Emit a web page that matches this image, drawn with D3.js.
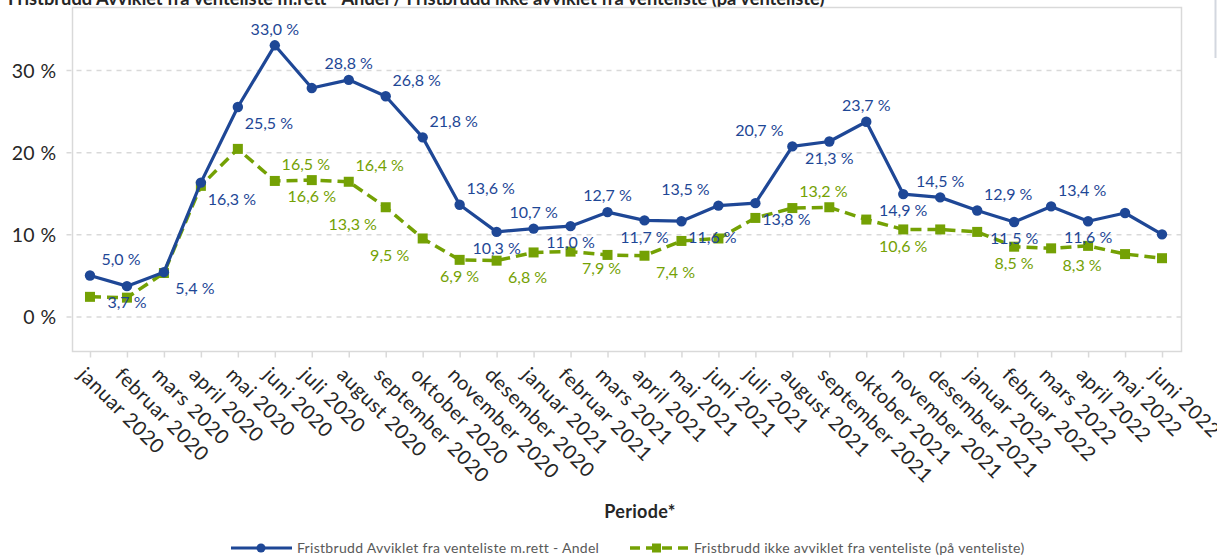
<!DOCTYPE html>
<html>
<head>
<meta charset="utf-8">
<script src="https://cdn.jsdelivr.net/npm/d3@7"></script>
<style>
  html, body { margin: 0; padding: 0; background: #fff; }
  svg { display: block; font-family: Lato, "Open Sans", sans-serif; }
</style>
</head>
<body>
<svg id="chart" width="1217" height="557"></svg>
<script>
// Periods (months)
const months = [
  "januar 2020","februar 2020","mars 2020","april 2020","mai 2020","juni 2020",
  "juli 2020","august 2020","september 2020","oktober 2020","november 2020","desember 2020",
  "januar 2021","februar 2021","mars 2021","april 2021","mai 2021","juni 2021",
  "juli 2021","august 2021","september 2021","oktober 2021","november 2021","desember 2021",
  "januar 2022","februar 2022","mars 2022","april 2022","mai 2022","juni 2022"
];

// Fristbrudd Avviklet fra venteliste m.rett - Andel (%)
const avviklet = [
  5.0, 3.7, 5.4, 16.3, 25.5, 33.0, 27.8, 28.8, 26.8, 21.8, 13.6, 10.3,
  10.7, 11.0, 12.7, 11.7, 11.6, 13.5, 13.8, 20.7, 21.3, 23.7, 14.9, 14.5,
  12.9, 11.5, 13.4, 11.6, 12.6, 10.0
];

// Fristbrudd ikke avviklet fra venteliste (på venteliste) (%)
const ikkeAvviklet = [
  2.4, 2.3, 5.3, 15.9, 20.4, 16.5, 16.6, 16.4, 13.3, 9.5, 6.9, 6.8,
  7.8, 7.9, 7.5, 7.4, 9.2, 9.5, 12.0, 13.2, 13.3, 11.8, 10.6, 10.6,
  10.3, 8.5, 8.3, 8.6, 7.6, 7.1
];

const yTicks = [0, 10, 20, 30];

const titleText = "Fristbrudd Avviklet fra venteliste m.rett - Andel / Fristbrudd ikke avviklet fra venteliste (på venteliste)";
const xTitle = "Periode*";
const seriesNames = [
  "Fristbrudd Avviklet fra venteliste m.rett - Andel",
  "Fristbrudd ikke avviklet fra venteliste (på venteliste)"
];

// Where each value label sits relative to its point (null = no label)
// T = above, B = below, R/L = shifted right/left
const avvikletLabelPos = [
  "TR","B","BR","BR","BR","T",null,"T","TR","TR","TR","B",
  "T","B","T","B","BR","TL","BR","TL","B","T","B","T",
  "TR","B","TR","B",null,null
];
const ikkeAvvikletLabelPos = [
  null,null,null,null,null,"TR","B","TR","BL","BL","B","BR",
  null,"BR",null,"BR",null,null,null,"TR",null,null,"B",null,
  null,"B","BR",null,null,null
];

const BLUE = "#1e4796";
const GREEN = "#74a104";
const GRID = "#d9d9d9";
const TEXT = "#262626";

const frame = { left: 72.5, right: 1181.5, top: 7.5, bottom: 351.5 };

const svg = d3.select("#chart");

const x = d3.scalePoint()
  .domain(months)
  .range([frame.left - 1, frame.right - 1])
  .padding(0.5);

const y = d3.scaleLinear()
  .domain([-4.25, 37.6])
  .range([frame.bottom, frame.top]);

// Title (partly above the visible area)
svg.append("text")
  .attr("x", 8).attr("y", 5)
  .attr("font-size", 18.3).attr("font-weight", 700)
  .attr("fill", TEXT)
  .text(titleText);

// Side rule at the right edge
svg.append("rect")
  .attr("x", 1214.5).attr("y", 0).attr("width", 2).attr("height", 58)
  .attr("fill", "#d3d7df");

// Horizontal dashed grid lines
const yAxis = d3.axisLeft(y)
  .tickValues(yTicks)
  .tickSize(frame.right - frame.left + 7)
  .tickFormat(d => d + " %");

const gy = svg.append("g")
  .attr("transform", `translate(${frame.right},0)`)
  .call(yAxis);
gy.select(".domain").remove();
gy.selectAll(".tick line")
  .attr("stroke", GRID).attr("stroke-width", 1.5)
  .attr("stroke-dasharray", "5,5");
gy.selectAll(".tick text")
  .attr("x", -(frame.right - 56.5))
  .attr("dy", "0.36em")
  .attr("font-size", 19.5)
  .attr("letter-spacing", 0.4)
  .attr("font-family", "Lato, sans-serif")
  .attr("fill", TEXT);

// Plot frame
svg.append("rect")
  .attr("x", frame.left).attr("y", frame.top)
  .attr("width", frame.right - frame.left)
  .attr("height", frame.bottom - frame.top)
  .attr("fill", "none").attr("stroke", GRID).attr("stroke-width", 1.5);

// X axis with rotated month labels
const xAxis = d3.axisBottom(x).tickSize(6).tickSizeOuter(0);
const gx = svg.append("g")
  .attr("transform", `translate(0,${frame.bottom})`)
  .call(xAxis);
gx.select(".domain").remove();
gx.selectAll(".tick line").attr("stroke", GRID).attr("stroke-width", 1.5);
gx.selectAll(".tick text")
  .attr("font-size", 20)
  .attr("letter-spacing", 0.6)
  .attr("font-family", "Lato, sans-serif")
  .attr("fill", TEXT)
  .attr("text-anchor", "start")
  .attr("x", 5).attr("y", 0).attr("dy", null)
  .attr("transform", "translate(0,4) rotate(45) translate(0,24)");

// X axis title
svg.append("text")
  .attr("x", (frame.left + frame.right) / 2 + 13)
  .attr("y", 518)
  .attr("text-anchor", "middle")
  .attr("font-size", 18).attr("font-weight", 700)
  .attr("letter-spacing", 0.3)
  .attr("fill", TEXT)
  .text(xTitle);

const line = d3.line()
  .x((d, i) => x(months[i]))
  .y(d => y(d));

// Green dashed series
svg.append("path")
  .datum(ikkeAvviklet)
  .attr("d", line)
  .attr("fill", "none")
  .attr("stroke", GREEN).attr("stroke-width", 3.5)
  .attr("stroke-dasharray", "11,6");

svg.append("g").selectAll("rect")
  .data(ikkeAvviklet)
  .join("rect")
  .attr("x", (d, i) => x(months[i]) - 5)
  .attr("y", d => y(d) - 5)
  .attr("width", 10).attr("height", 10)
  .attr("fill", GREEN);

// Blue solid series
svg.append("path")
  .datum(avviklet)
  .attr("d", line)
  .attr("fill", "none")
  .attr("stroke", BLUE).attr("stroke-width", 3.2)
  .attr("stroke-linejoin", "round");

svg.append("g").selectAll("circle")
  .data(avviklet)
  .join("circle")
  .attr("cx", (d, i) => x(months[i]))
  .attr("cy", d => y(d))
  .attr("r", 5.2)
  .attr("fill", BLUE);

// Value labels
const fmt = v => v.toFixed(1).replace(".", ",") + " %";
function placeLabels(values, positions, color) {
  const items = values.map((v, i) => ({ v, i, p: positions[i] })).filter(d => d.p);
  svg.append("g").selectAll("text")
    .data(items)
    .join("text")
    .attr("x", d => x(months[d.i]) + (d.p.includes("R") ? 31 : d.p.includes("L") ? -33 : 0))
    .attr("y", d => y(d.v) + (d.p.startsWith("T") ? -16.5 : 16.5))
    .attr("dy", "0.36em")
    .attr("text-anchor", "middle")
    .attr("font-size", 16)
    .attr("fill", color)
    .text(d => fmt(d.v));
}
placeLabels(ikkeAvviklet, ikkeAvvikletLabelPos, GREEN);
placeLabels(avviklet, avvikletLabelPos, BLUE);

// Legend
const legend = svg.append("g")
  .attr("font-size", 14).attr("letter-spacing", 0.3).attr("fill", "#595959");
legend.append("line")
  .attr("x1", 231).attr("x2", 292).attr("y1", 548).attr("y2", 548)
  .attr("stroke", BLUE).attr("stroke-width", 3);
legend.append("circle").attr("cx", 261).attr("cy", 548).attr("r", 4.5).attr("fill", BLUE);
legend.append("text").attr("x", 297).attr("y", 548).attr("dy", "0.35em").text(seriesNames[0]);

legend.append("line")
  .attr("x1", 630).attr("x2", 688).attr("y1", 548).attr("y2", 548)
  .attr("stroke", GREEN).attr("stroke-width", 3.5)
  .attr("stroke-dasharray", "10,6");
legend.append("rect").attr("x", 652).attr("y", 543.5).attr("width", 9).attr("height", 9).attr("fill", GREEN);
legend.append("text").attr("x", 694).attr("y", 548).attr("dy", "0.35em").text(seriesNames[1]);
</script>
</body>
</html>
